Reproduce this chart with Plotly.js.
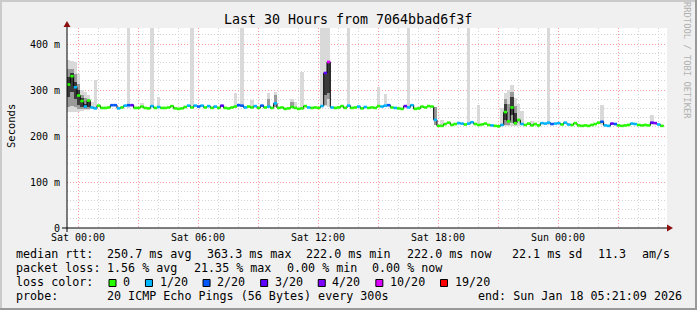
<!DOCTYPE html>
<html><head><meta charset="utf-8">
<script src="https://cdn.plot.ly/plotly-3.0.1.min.js"></script>
<style>html,body{margin:0;padding:0;background:#f0f0f0;}#chart{width:697px;height:310px;}</style>
</head><body><div id="chart"></div>
<script>
// ---------- data ----------
const startHour = -0.55;          // hours relative to Sat 00:00
const stepMinutes = 10;
const medianMs = [
 312,330,306,288,276,264,277,262,260,266,
 261,261,262,267,267,260,262,266,267,267,
 261,261,264,261,260,265,261,263,261,261,
 262,265,260,259,260,263,266,262,266,264,
 266,262,265,261,264,261,266,261,260,262,
 264,267,266,262,264,262,265,261,266,262,
 264,261,271,261,262,259,260,263,261,259,
 260,265,262,261,262,261,265,337,361,262,
 261,262,265,261,266,261,262,264,260,263,
 261,262,261,265,264,266,267,262,261,260,
 259,265,262,267,259,260,264,262,265,264,
 235,222,222,226,229,224,226,228,227,225,
 227,230,226,224,225,227,224,223,222,221,
 224,252,232,262,228,235,226,224,227,223,
 226,223,228,227,229,226,227,228,225,229,
 225,224,228,223,222,223,222,224,226,229,
 231,223,222,227,226,223,222,223,224,227,
 226,224,223,224,223,229,228,225,222];
const lossBucket = [
 0,0,1,0,0,1,0,1,1,0,
 0,0,0,2,2,1,0,1,2,3,
 0,0,0,0,0,1,0,1,0,0,
 0,0,0,0,0,0,1,0,1,2,
 1,0,1,0,1,0,3,0,0,0,
 0,2,2,1,0,0,1,0,2,0,
 1,0,1,0,0,0,0,0,0,0,
 0,0,1,0,0,0,1,3,5,1,
 0,0,0,0,1,0,0,1,0,1,
 0,0,0,0,1,1,2,0,1,0,
 0,3,1,1,0,0,0,0,0,0,
 1,0,0,0,0,0,0,1,1,0,
 1,1,0,0,0,0,0,1,0,0,
 1,0,0,0,0,0,1,0,0,0,
 0,0,1,1,1,2,1,1,0,1,
 1,0,0,0,0,0,0,0,0,0,
 2,1,1,3,2,0,0,0,0,1,
 1,0,0,0,0,3,4,1,0];
const lossLabels = ['0','1/20','2/20','3/20','4/20','10/20','19/20'];
const lossColors = ['#26ff00','#00b8ff','#0059ff','#5e00ff','#7e00ff','#dd00ff','#ff0000'];

const smokeLightIdx = [0,1,2,3,4,5,6,7,8,18,22,25,27,37,50,52,55,60,62,67,68,70,76,77,78,84,93,95,102,110,112,120,123,130,131,132,133,134,135,136,139,144,160,175];
const smokeLightLo  = [252,252,252,252,255,256,256,258,261,260,262,262,262,265,262,262,262,260,262,260,260,262,265,265,263,262,262,262,262,226,224,224,224,222,222,222,222,222,222,224,223,224,224,224];
const smokeLightHi  = [365,362,360,335,300,296,290,275,322,435,272,435,285,435,293,435,278,293,295,280,275,340,435,435,435,435,306,292,435,262,235,435,267,260,293,300,311,283,270,255,232,435,267,245];
const smokeMidIdx = [0,1,2,3,4,5,6,60,62,67,77,78,110,131,132,133,134];
const smokeMidLo  = [262,265,262,258,258,258,258,262,262,260,268,280,224,225,225,228,224];
const smokeMidHi  = [345,345,335,312,290,282,280,280,290,275,340,361,262,280,270,295,265];
const smokeDarkIdx = [0,1,2,3,4,5,6,77,78,131,133,134];
const smokeDarkLo  = [285,295,280,268,262,260,262,290,293,235,245,226];
const smokeDarkHi  = [328,336,318,300,282,270,278,337,361,270,285,250];

const xTickHours = [0,3,6,9,12,15,18,21,24,27];
const xTickText  = ['Sat 00:00','','Sat 06:00','','Sat 12:00','','Sat 18:00','','Sun 00:00',''];
const yTickVals = [0,100,200,300,400];
const yTickText = ['0','100 m','200 m','300 m','400 m'];

const titleText = 'Last 30 Hours from 7064bbad6f3f';
const rttStats  = ['250.7 ms avg','363.3 ms max','222.0 ms min','222.0 ms now','22.1 ms sd','11.3','am/s'];
const lossStats = ['1.56 % avg','21.35 % max','0.00 % min','0.00 % now'];
const probeText = '20 ICMP Echo Pings (56 Bytes) every 300s';
const endText   = 'end: Sun Jan 18 05:21:09 2026';

// ---------- geometry helpers ----------
const L=67, R=667, T=28, B=228;
const px = x => (x-L)/(R-L);
const py = y => (B-y)/(B-T);
const dt = stepMinutes/60;
const times = medianMs.map((_,i)=> startHour + i*dt);
const FONT = 'DejaVu Sans Mono';

function smokeTrace(idx, lo, hi, color){
  return {type:'bar', x: idx.map(i=>times[i]+dt/2), y: hi.map((h,k)=>h-lo[k]), base: lo,
    width: dt, marker:{color:color, line:{width:0}}, hoverinfo:'skip', showlegend:false};
}
const traces = [
  smokeTrace(smokeLightIdx, smokeLightLo, smokeLightHi, '#d9d9d9'),
  smokeTrace(smokeMidIdx, smokeMidLo, smokeMidHi, '#9a9a9a'),
  smokeTrace(smokeDarkIdx, smokeDarkLo, smokeDarkHi, '#3a3a3a'),
  {type:'scatter', mode:'lines', x: times.concat([times[times.length-1]+dt]),
   y: medianMs.concat([medianMs[medianMs.length-1]]), line:{shape:'hv', color:'#000', width:1},
   hoverinfo:'skip', showlegend:false}
];
lossColors.forEach((c,b)=>{
  const xs=[], ys=[];
  medianMs.forEach((v,i)=>{ if(lossBucket[i]===b){ xs.push(times[i], times[i]+dt, null); ys.push(v, v, null);} });
  if(xs.length) traces.push({type:'scatter', mode:'lines', x:xs, y:ys, line:{color:c, width:2.6},
    connectgaps:false, hoverinfo:'skip', showlegend:false});
});

// minor ticks
const minorX=[]; for(let h=0; h<=29; h++){ if(h%3) minorX.push(h); }
const minorY=[]; for(let v=20; v<=420; v+=20){ if(v%100) minorY.push(v); }

// ---------- annotations ----------
const ann = [];
function text(x, y, s, size, opts){
  ann.push(Object.assign({xref:'paper', yref:'paper', x:px(x), y:py(y), text:s, showarrow:false,
    xanchor:'left', yanchor:'middle', borderpad:0, borderwidth:0,
    font:{family:FONT, size:size, color:'#000'}}, opts||{}));
}
text(348, 19, titleText, 13.3, {xanchor:'center'});
text(11, 126, 'Seconds', 10.5, {xanchor:'center', textangle:-90});
text(687, 60, 'RRDTOOL / TOBI OETIKER', 8.8, {xanchor:'center', textangle:90, font:{family:FONT, size:8.8, color:'#b0b0b0'}});
const LF = 11.7, pitch = 7.05;
const r1 = 254, r2 = 268, r3 = 282, r4 = 296;
text(16, r1, 'median rtt:', LF);
[107,207,306,407,512,598,642].forEach((x,k)=>text(x, r1, rttStats[k], LF));
text(16, r2, 'packet loss:', LF);
[107,194,287,372].forEach((x,k)=>text(x, r2, lossStats[k], LF));
text(16, r3, 'loss color:', LF);
text(16, r4, 'probe:', LF);
text(107, r4, probeText, LF);
text(478, r4, endText, LF);

const shapes = [];
let sx = 109;
lossLabels.forEach((lab,k)=>{
  shapes.push({type:'rect', xref:'paper', yref:'paper', x0:px(sx), x1:px(sx+7), y0:py(279.5), y1:py(286.5),
    fillcolor:lossColors[k], line:{color:'#000', width:1}});
  text(sx+2*pitch, r3, lab, LF);
  sx += (lab.length+4)*pitch + 1.2;
});
// axes with arrows
shapes.push({type:'line', xref:'paper', yref:'paper', x0:px(62), x1:px(668), y0:py(228), y1:py(228), line:{color:'#000', width:1}, layer:'above'});
shapes.push({type:'line', xref:'paper', yref:'paper', x0:px(67), x1:px(67), y0:py(232), y1:py(24), line:{color:'#000', width:1}, layer:'above'});
shapes.push({type:'path', xref:'paper', yref:'paper', layer:'above',
  path:`M ${px(673)},${py(228)} L ${px(667)},${py(224.5)} L ${px(667)},${py(231.5)} Z`, fillcolor:'#8b0f0f', line:{width:0}});
shapes.push({type:'path', xref:'paper', yref:'paper', layer:'above',
  path:`M ${px(67)},${py(21)} L ${px(63.5)},${py(27)} L ${px(70.5)},${py(27)} Z`, fillcolor:'#8b0f0f', line:{width:0}});
// frame shading
shapes.push({type:'line', xref:'paper', yref:'paper', x0:px(0), x1:px(697), y0:py(1), y1:py(1), line:{color:'#cbcbcb', width:2}});
shapes.push({type:'line', xref:'paper', yref:'paper', x0:px(1), x1:px(1), y0:py(0), y1:py(310), line:{color:'#cbcbcb', width:2}});
shapes.push({type:'line', xref:'paper', yref:'paper', x0:px(0), x1:px(697), y0:py(309), y1:py(309), line:{color:'#999999', width:2}});
shapes.push({type:'line', xref:'paper', yref:'paper', x0:px(696), x1:px(696), y0:py(0), y1:py(310), line:{color:'#999999', width:2}});

const gridDash = '1px,2px';
const layout = {
  width:697, height:310, margin:{l:L, r:697-R, t:T, b:310-B, pad:0},
  paper_bgcolor:'#f0f0f0', plot_bgcolor:'#ffffff', showlegend:false, barmode:'overlay', bargap:0,
  font:{family:FONT, size:10, color:'#000'},
  xaxis:{range:[startHour, startHour+30], tickmode:'array', tickvals:xTickHours, ticktext:xTickText,
    showgrid:true, gridcolor:'#ff9a9a', griddash:gridDash, gridwidth:1, zeroline:false, showline:false,
    ticks:'', tickfont:{family:FONT, size:10, color:'#000'}, ticklabelstandoff:2,
    minor:{tickmode:'array', tickvals:minorX, showgrid:true, gridcolor:'#d4d4d4', griddash:gridDash, gridwidth:1}},
  yaxis:{range:[0, 200/0.46], tickmode:'array', tickvals:yTickVals, ticktext:yTickText,
    showgrid:true, gridcolor:'#ff9a9a', griddash:gridDash, gridwidth:1, zeroline:false, showline:false,
    ticks:'', tickfont:{family:FONT, size:10, color:'#000'}, ticklabelstandoff:6,
    minor:{tickmode:'array', tickvals:minorY, showgrid:true, gridcolor:'#d4d4d4', griddash:gridDash, gridwidth:1}},
  annotations:ann, shapes:shapes
};
Plotly.newPlot('chart', traces, layout, {staticPlot:true, displayModeBar:false});
</script></body></html>
